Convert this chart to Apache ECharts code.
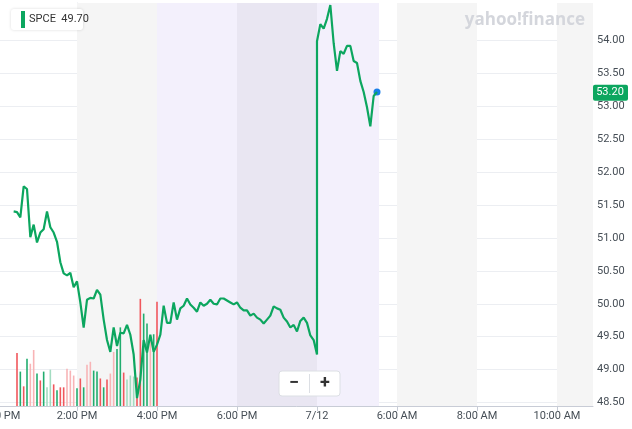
<!DOCTYPE html>
<html><head><meta charset="utf-8">
<script src="https://cdn.jsdelivr.net/npm/echarts@6/dist/echarts.min.js"></script>
<style>html,body{margin:0;padding:0;background:#fff}#c{width:632px;height:429px}</style>
</head><body><div id="c"></div>
<script>
// x in 5-minute slots: 0 = 2:00 PM, 24 = 4:00 PM, 48 = 6:00 PM, 72 = 7/12, 96 = 6:00 AM ...
const tickLabels = {'-24':'12:00 PM','0':'2:00 PM','24':'4:00 PM','48':'6:00 PM','72':'7/12','96':'6:00 AM','120':'8:00 AM','144':'10:00 AM'};
const regularStart = -19;
const regularPrices = [51.40,51.39,51.31,51.78,51.74,51.01,51.20,50.93,51.08,51.13,51.40,51.16,51.08,50.94,50.63,50.46,50.43,50.47,50.25,50.34,50.02,49.64,50.06,50.09,50.08,50.21,50.14,49.76,49.45,49.27,49.64,49.36,49.56,49.55,49.68,49.53,49.23,48.57,48.85,49.45,49.26,49.53,49.27,49.38,49.53];
const afterStart = 26;
const afterPrices = [49.97,49.71,49.71,50.02,49.76,49.93,49.97,50.08,49.99,49.94,49.88,50.02,49.97,50.00,50.06,50.00,49.99,50.08,50.08,50.05,50.02,49.99,50.02,49.94,49.90,49.90,49.82,49.85,49.79,49.76,49.70,49.76,49.82,49.96,49.93,49.91,49.79,49.73,49.64,49.68,49.58,49.74,49.79,49.71,49.52,49.45,49.23];
const preStart = 72;
const prePrices = [53.98,54.24,54.17,54.32,54.53,53.95,53.53,53.83,53.79,53.91,53.91,53.68,53.65,53.38,53.21,52.98,52.69,53.15,53.21];
const volStart = -18;
const volumes = [54,35,20,48,43,57,33,26,35,19,37,22,16,19,19,38,36,31,18,28,19,42,45,36,35,28,19,27,33,55,58,80,34,27,31,30,29,109,94,84,70,73,106];
const volKinds = ['r','g','r','g','p','p','g','r','g','lg','lg','r','g','r','r','p','p','p','g','r','g','p','p','g','g','r','g','r','p','p','g','g','r','lg','lg','lg','r','r','g','g','p','g','r'];
const yTicks = [48.5,49,49.5,50,50.5,51,51.5,52,52.5,53,53.5,54];
const lastPrice = 53.20, legendText = 'SPCE  49.70';

const kindColor = {r:'#f0575c', p:'#f8b4b6', g:'#21ad6e', lg:'#a3dcc1'};
const line = [];
regularPrices.forEach((v,i)=>line.push([regularStart+i,v]));
afterPrices.forEach((v,i)=>line.push([afterStart+i,v]));
prePrices.forEach((v,i)=>line.push([preStart+i,v]));
const lastPt = line[line.length-1];
const vol = volumes.map((v,i)=>({value:[volStart+i,v], itemStyle:{color:kindColor[volKinds[i]]}}));

const chart = echarts.init(document.getElementById('c'));
chart.setOption({
  animation:false,
  grid:{left:-3,right:39,top:3,bottom:23,containLabel:false,outerBoundsMode:'none'},
  xAxis:{type:'value',min:-24,max:154.8,interval:24,
    axisLine:{lineStyle:{color:'#c8ccd6'}},axisTick:{show:true,length:5,lineStyle:{color:'#c8ccd6'}},
    splitLine:{show:false},
    axisLabel:{color:'#464e56',fontSize:11,fontFamily:'Roboto, sans-serif',margin:5,showMaxLabel:false,hideOverlap:false,
      formatter:v=>tickLabels[String(Math.round(v))]||''}},
  yAxis:[{type:'value',position:'right',min:48.45,max:54.56,
    axisLine:{show:true,lineStyle:{color:'#dfe3ea'}},
    axisTick:{show:false,customValues:yTicks},
    splitLine:{show:true,lineStyle:{color:'#eceef2'}},
    axisLabel:{customValues:yTicks,color:'#464e56',fontSize:11,fontFamily:'Roboto, sans-serif',margin:4,formatter:v=>v.toFixed(2)}},
    {type:'value',min:0,max:410,show:false}],
  series:[
    {type:'bar',yAxisIndex:1,data:vol,barWidth:1.6,silent:true,
      markArea:{silent:true,data:[
        [{xAxis:0,itemStyle:{color:'#f5f5f5'}},{xAxis:24}],
        [{xAxis:24,itemStyle:{color:'#f3f0fc'}},{xAxis:48}],
        [{xAxis:48,itemStyle:{color:'#e9e6f2'}},{xAxis:72}],
        [{xAxis:72,itemStyle:{color:'#f3f0fc'}},{xAxis:90.6}],
        [{xAxis:96,itemStyle:{color:'#f5f5f5'}},{xAxis:120}],
        [{xAxis:144,itemStyle:{color:'#f5f5f5'}},{xAxis:154.8}]
      ]}},
    {type:'line',data:line,showSymbol:false,lineStyle:{color:'#0ca65f',width:2.2},z:5,
      markPoint:{symbol:'circle',symbolSize:7,itemStyle:{color:'#1a7ee8'},label:{show:false},data:[{coord:lastPt}]}}
  ]
});
const py = chart.convertToPixel({yAxisIndex:0},lastPrice);
chart.setOption({graphic:[
  {type:'rect',shape:{x:593,y:py-8,width:35,height:16,r:2},style:{fill:'#0ca65f'},z:20},
  {type:'text',x:610,y:py,style:{text:lastPrice.toFixed(2),fill:'#fff',font:'11px Roboto, sans-serif',align:'center',verticalAlign:'middle'},z:21},
  {type:'rect',shape:{x:11,y:9,width:72,height:21,r:3},style:{fill:'#fff',shadowBlur:3,shadowColor:'rgba(0,0,0,0.15)'},z:20},
  {type:'rect',shape:{x:21,y:11,width:4,height:17},style:{fill:'#0ca65f'},z:21},
  {type:'text',x:29,y:19.5,style:{text:legendText,fill:'#333',font:'11px Roboto, sans-serif',verticalAlign:'middle'},z:21},
  {type:'text',x:585,y:20,style:{text:'yahoo!finance',fill:'#d4d6dc',font:'bold 17px "Open Sans", sans-serif',align:'right',verticalAlign:'middle'},z:21},
  {type:'rect',shape:{x:279,y:371,width:61,height:25,r:3},style:{fill:'#fff',stroke:'#dcdfe4',lineWidth:1},z:20},
  {type:'line',shape:{x1:309.5,y1:374,x2:309.5,y2:393},style:{stroke:'#dcdfe4'},z:21},
  {type:'text',x:294,y:383.5,style:{text:'−',fill:'#333',font:'bold 18px Roboto, sans-serif',align:'center',verticalAlign:'middle'},z:21},
  {type:'text',x:325,y:383.5,style:{text:'+',fill:'#333',font:'bold 18px Roboto, sans-serif',align:'center',verticalAlign:'middle'},z:21}
]});
</script></body></html>
